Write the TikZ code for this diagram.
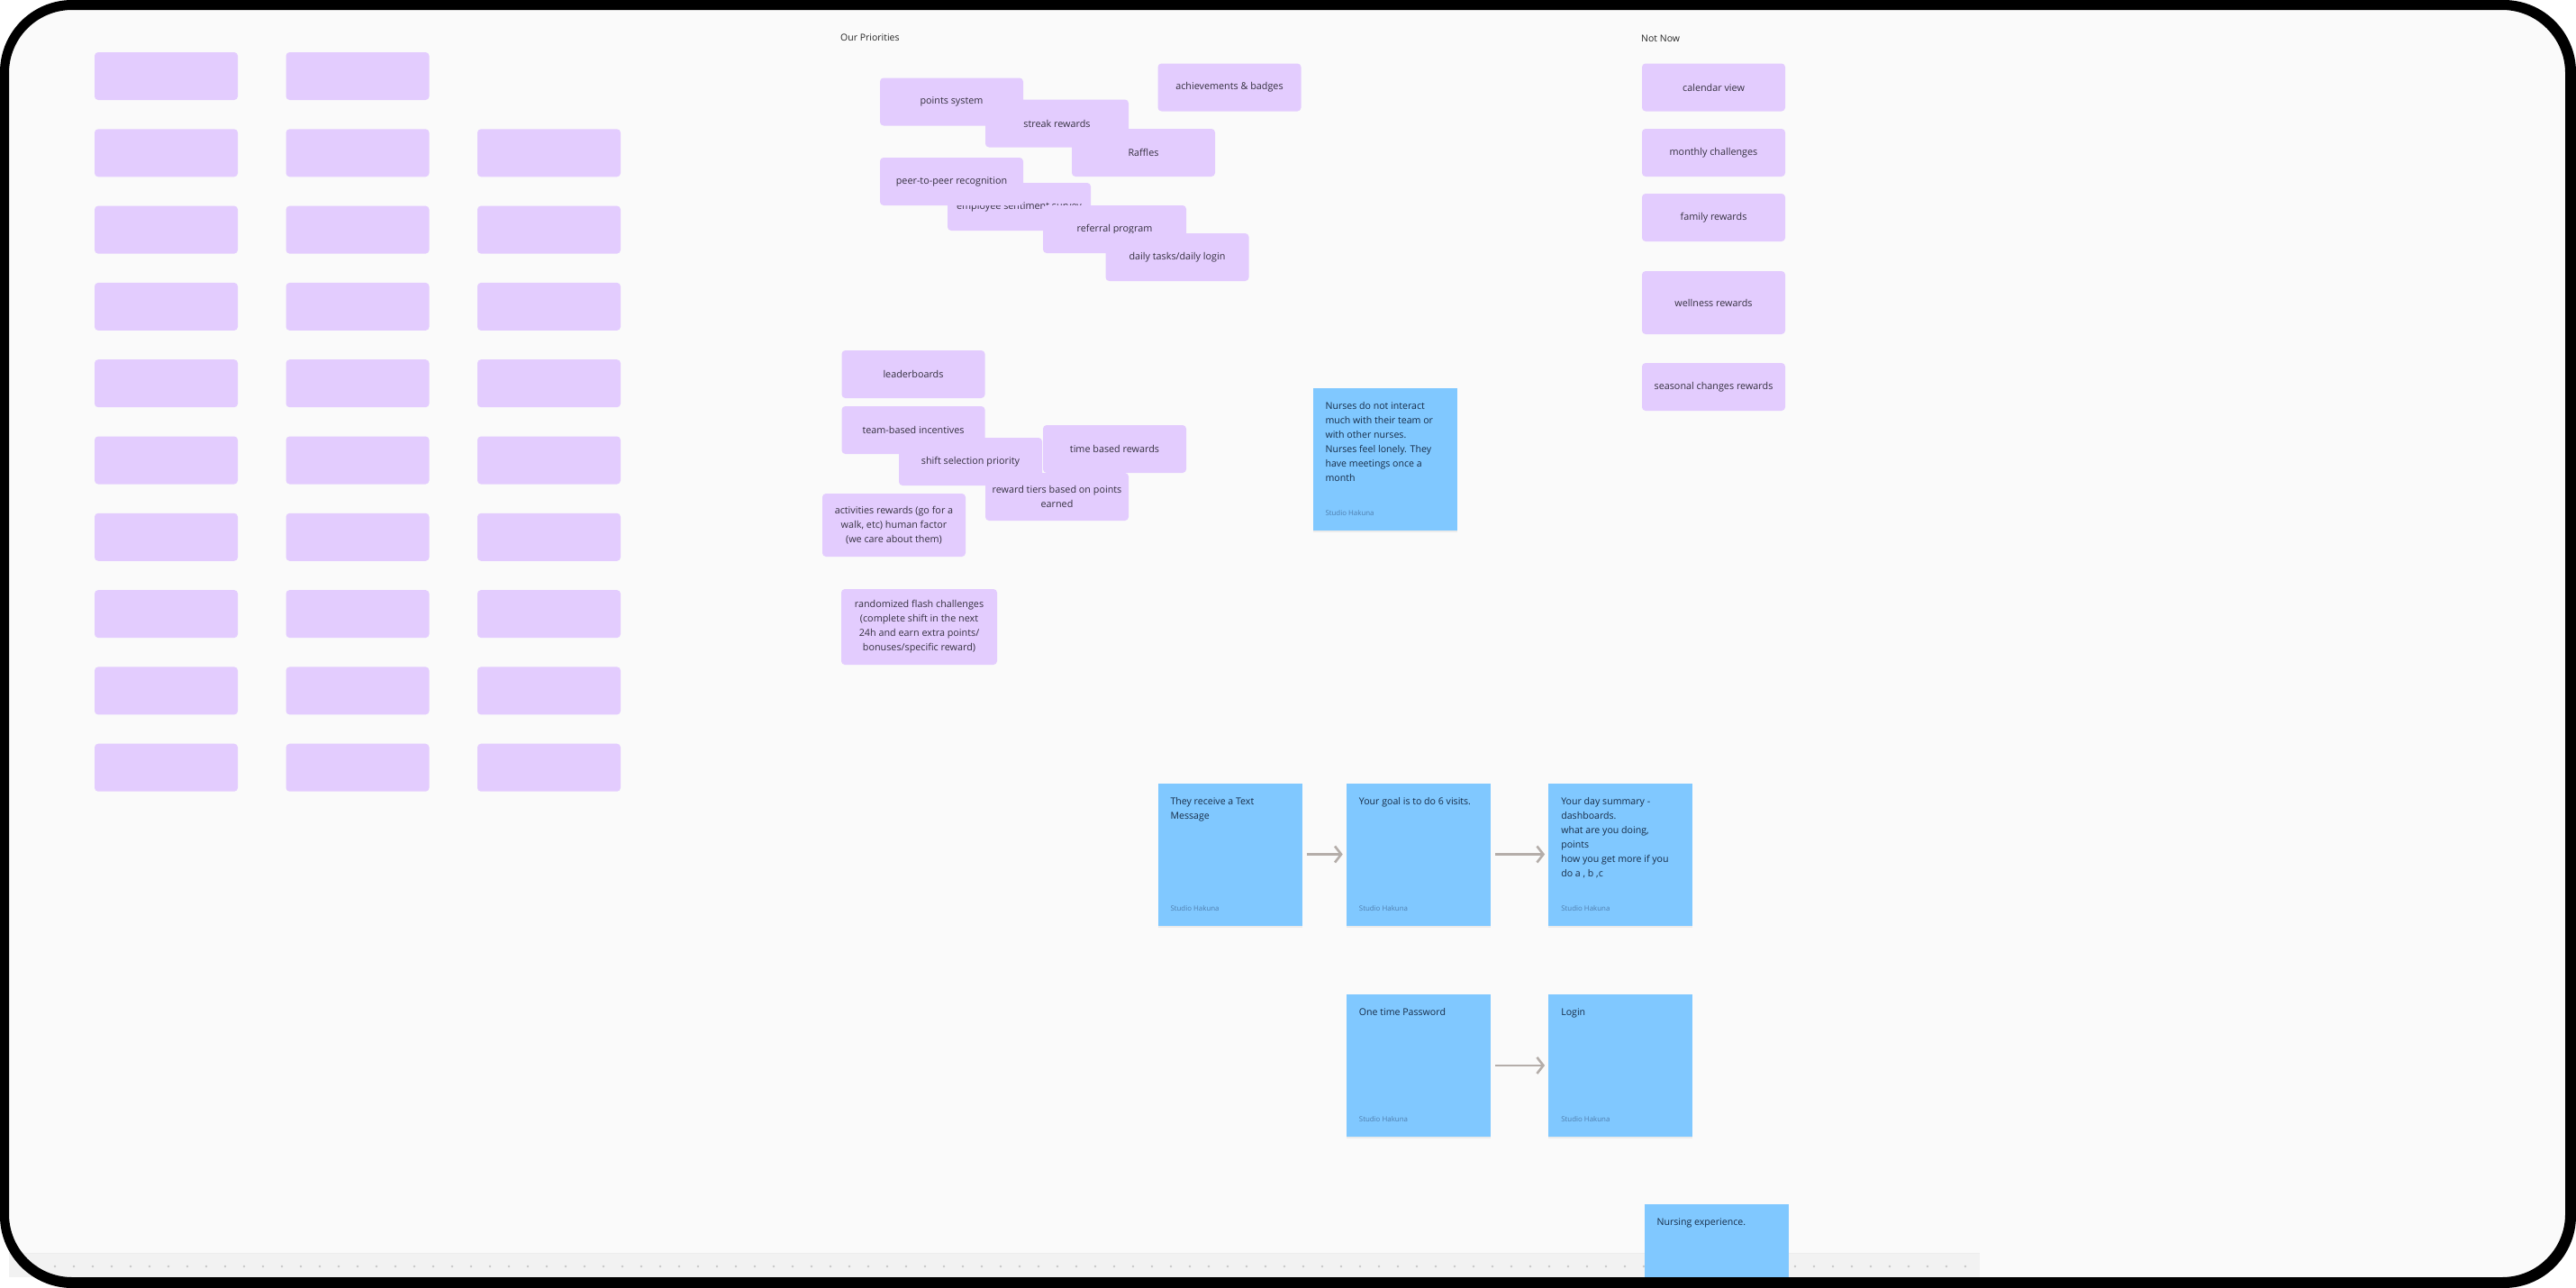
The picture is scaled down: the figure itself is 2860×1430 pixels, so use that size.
\documentclass[tikz,border=0pt]{standalone}
\usepackage{fontspec}
\setmainfont{Open Sans}
\usepackage{xcolor}
\usepackage{tikz}
\usetikzlibrary{arrows.meta,positioning,shadows}

\definecolor{panel}{HTML}{FAFAFA}
\definecolor{lilac}{HTML}{E3CCFE}
\definecolor{lilacink}{HTML}{34303F}
\definecolor{sky}{HTML}{80C8FF}
\definecolor{skyink}{HTML}{172C47}
\definecolor{skycredit}{HTML}{4F7FAF}
\definecolor{connector}{HTML}{B4ADA9}
\definecolor{rail}{HTML}{F2F2F2}

\begin{document}
\begin{tikzpicture}[
  x=1pt, y=-1pt,
  tag/.style={rectangle,rounded corners=4pt,fill=lilac,text=lilacink,minimum width=159pt,minimum height=53pt,align=center,inner sep=2pt,font=\fontsize{10.8}{16}\selectfont},
  blank/.style={tag},
  note/.style={rectangle,fill=sky,minimum width=160pt,minimum height=158pt,inner sep=0pt,drop shadow={opacity=0.12,shadow xshift=0pt,shadow yshift=-2pt}},
  notetext/.style={anchor=north west,inner sep=0pt,xshift=14pt,yshift=-16pt,text=skyink,align=left,font=\fontsize{10.6}{16}\selectfont},
  credit/.style={anchor=south west,inner sep=0pt,xshift=14pt,yshift=16pt,text=skycredit,font=\fontsize{7.9}{9}\selectfont},
  heading/.style={anchor=west,inner sep=0pt,text=black!85,font=\fontsize{10.5}{12}\selectfont},
  arrow/.style={-{Straight Barb[length=7pt,width=18pt]},line width=2.6pt,draw=connector,shorten <=5pt,shorten >=4pt}
]
  \useasboundingbox (0,0) rectangle (2860,1430);
  \fill[white] (0,0) rectangle (2860,1430);
  \fill[panel,rounded corners=70pt] (10,11) rectangle (2848,1418);

  \foreach \c in {0,1}
    \node[blank] (g0\c) at ({184.5+212.5*\c},84.5) {};
  \foreach \c in {0,1,2}
    \foreach \r in {1,...,9}
      \node[blank] (g\r\c) at ({184.5+212.5*\c},{84.5+85.3*\r}) {};

  \node[heading] (priorities) at (933,42) {Our Priorities};
  \node[heading] (notnow) at (1822,43) {Not Now};

  \node[tag] (points) at (1056.5,113) {points system};
  \node[tag] (streak) at (1173.5,137) {streak rewards};
  \node[tag] (raffles) at (1269.5,169.5) {Raffles};
  \node[tag] (badges) at (1365,97) {achievements \& badges};
  \node[tag] (sentiment) at (1131.5,229.5) {employee sentiment survey};
  \node[tag] (peer) at (1056.5,201.5) {peer-to-peer recognition};
  \node[tag] (referral) at (1237.5,254.5) {referral program};
  \node[tag] (daily) at (1307,285.5) {daily tasks/daily login};

  \node[tag] (leader) at (1014,415.5) {leaderboards};
  \node[tag] (shift) at (1077.5,512.5) {shift selection priority};
  \node[tag] (team) at (1014,477.5) {team-based incentives};
  \node[tag] (timed) at (1237.5,498.5) {time based rewards};
  \node[tag] (tiers) at (1173.5,551.5) {reward tiers based on points\\earned};
  \node[tag,minimum height=70pt] (activities) at (992.5,583) {activities rewards (go for a\\walk, etc) human factor\\(we care about them)};
  \node[tag,minimum width=173pt,minimum height=84pt] (flash) at (1020.5,696) {randomized flash challenges\\(complete shift in the next\\24h and earn extra points/\\bonuses/specific reward)};

  \node[tag] (calendar) at (1902.5,97) {calendar view};
  \node[tag] (monthly) at (1902.5,169.5) {monthly challenges};
  \node[tag] (family) at (1902.5,241.5) {family rewards};
  \node[tag,minimum height=70pt] (wellness) at (1902.5,336) {wellness rewards};
  \node[tag] (seasonal) at (1902.5,429.5) {seasonal changes rewards};

  \node[note,label={[notetext]north west:{Nurses do not interact\\much with their team or\\with other nurses.\\Nurses feel lonely. They\\have meetings once a\\month}},label={[credit]south west:Studio Hakuna}] (lonely) at (1537.5,509.5) {};

  \node[note,label={[notetext]north west:{They receive a Text\\Message}},label={[credit]south west:Studio Hakuna}] (receive) at (1365.5,948.5) {};
  \node[note,right=49pt of receive,label={[notetext]north west:{Your goal is to do 6 visits.}},label={[credit]south west:Studio Hakuna}] (goal) {};
  \node[note,right=64pt of goal,label={[notetext]north west:{Your day summary -\\dashboards.\\what are you doing,\\points\\how you get more if you\\do a , b ,c}},label={[credit]south west:Studio Hakuna}] (summary) {};
  \node[note,below=76pt of goal,label={[notetext]north west:{One time Password}},label={[credit]south west:Studio Hakuna}] (otp) {};
  \node[note,right=64pt of otp,label={[notetext]north west:{Login}},label={[credit]south west:Studio Hakuna}] (login) {};

  \draw[arrow] (receive) -- (goal);
  \draw[arrow] (goal) -- (summary);
  \draw[arrow] (otp) -- (login);

  \fill[rail] (10,1391) rectangle (2198,1418);
  \draw[black!7,line width=1pt] (10,1391) -- (2198,1391);
  \foreach \i in {0,...,102}
    \fill[black!22] ({40+21*\i},1406) circle (1.3pt);

  \node[note,label={[notetext]north west:{Nursing experience.}}] (nursing) at (1905.5,1416) {};

  \fill[black,even odd rule] [rounded corners=80pt] (0,0) rectangle (2860,1430) [rounded corners=70pt] (10,11) rectangle (2848,1418);
\end{tikzpicture}
\end{document}
